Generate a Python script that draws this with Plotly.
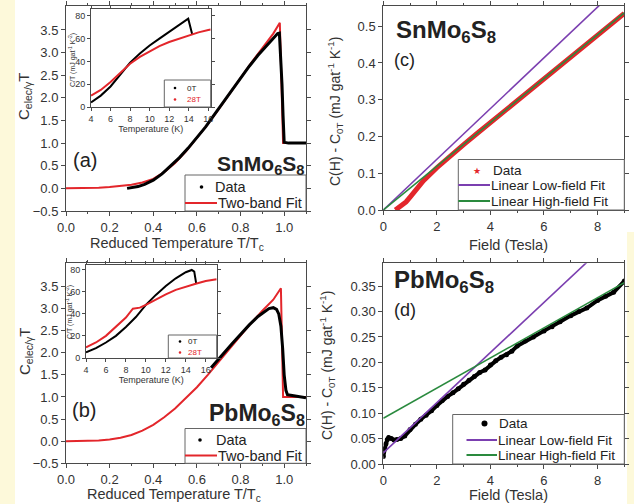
import plotly.graph_objects as go

W, H = 634, 504
FONT = "Arial, Liberation Sans, sans-serif"
def fx(p): return p / W
def fy(p): return 1 - p / H

RED = "#e3262b"
PURPLE = "#7b3fb0"
GREEN = "#2a8a3e"
AX = "#4a4a4a"

# ---------------- Panel (a): SnMo6S8 specific heat ----------------
a_t_data = [0.28, 0.30, 0.33, 0.36, 0.40, 0.44, 0.48, 0.52, 0.56, 0.60, 0.64, 0.68, 0.72, 0.76,
            0.80, 0.84, 0.88, 0.92, 0.95, 0.97, 0.978, 0.985, 0.99, 0.995, 1.0, 1.02, 1.05, 1.08, 1.1]
a_c_data = [0.00, 0.01, 0.04, 0.09, 0.18, 0.32, 0.49, 0.68, 0.89, 1.12, 1.36, 1.63, 1.90, 2.17,
            2.44, 2.70, 2.94, 3.16, 3.32, 3.42, 3.43, 2.9, 2.3, 1.6, 1.02, 1.0, 1.0, 1.0, 1.0]
a_t_fit = [0.0, 0.05, 0.10, 0.15, 0.20, 0.25, 0.30, 0.35, 0.40, 0.45, 0.50, 0.55, 0.60, 0.65,
           0.70, 0.75, 0.80, 0.85, 0.90, 0.95, 0.98, 0.995, 1.1]
a_c_fit = [0.0, 0.0, 0.005, 0.015, 0.03, 0.05, 0.08, 0.13, 0.21, 0.36, 0.56, 0.82, 1.12, 1.42,
           1.75, 2.1, 2.44, 2.78, 3.1, 3.42, 3.66, 1.0, 1.0]

# ---------------- Panel (b): PbMo6S8 specific heat ----------------
b_t_data = [0.665, 0.68, 0.72, 0.76, 0.80, 0.84, 0.88, 0.91, 0.93, 0.95, 0.965, 0.975, 0.985,
            0.993, 1.0, 1.008, 1.015, 1.03, 1.05, 1.07, 1.09, 1.1]
b_c_data = [1.66, 1.74, 1.97, 2.2, 2.42, 2.63, 2.82, 2.94, 3.0, 3.02, 2.98, 2.88, 2.6,
            2.1, 1.5, 1.15, 1.05, 1.04, 1.02, 1.0, 0.98, 0.98]
b_t_fit = [0.0, 0.05, 0.10, 0.15, 0.20, 0.25, 0.30, 0.35, 0.40, 0.45, 0.50, 0.55, 0.60, 0.65,
           0.70, 0.75, 0.80, 0.85, 0.90, 0.95, 0.985, 0.995, 1.1]
b_c_fit = [0.0, 0.0, 0.005, 0.015, 0.04, 0.08, 0.14, 0.24, 0.37, 0.54, 0.74, 0.97, 1.22, 1.5,
           1.8, 2.1, 2.4, 2.68, 2.95, 3.2, 3.46, 1.0, 1.0]

# ---------------- Panel (c): SnMo6S8 field dependence ----------------
c_H = [0.45, 0.55, 0.7, 0.85, 1.0, 1.2, 1.5, 2.0, 2.5, 3.0, 3.5, 4.0, 4.5, 5.0, 5.5, 6.0,
       6.5, 7.0, 7.5, 8.0, 8.5, 9.0]
c_dC = [0.0, 0.005, 0.012, 0.022, 0.035, 0.055, 0.08, 0.115, 0.148, 0.178, 0.208, 0.238,
        0.268, 0.298, 0.328, 0.358, 0.388, 0.418, 0.448, 0.477, 0.506, 0.535]
c_fit_H = [0, 9]
c_low = [0.0, 0.621]
c_high = [0.0, 0.536]

# ---------------- Panel (d): PbMo6S8 field dependence ----------------
d_H = [0.0, 0.05, 0.1, 0.15, 0.2, 0.3, 0.4, 0.5, 0.65, 0.8, 1.0, 1.2, 1.4, 1.6, 1.8, 2.0,
       2.2, 2.4, 2.6, 2.8, 3.0, 3.2, 3.4, 3.6, 3.8, 4.0, 4.2, 4.4, 4.6, 4.8, 5.0, 5.3, 5.6,
       6.0, 6.3, 6.6, 7.0, 7.3, 7.6, 8.0, 8.3, 8.6, 9.0]
d_dC = [0.015, 0.03, 0.04, 0.048, 0.052, 0.05, 0.047, 0.048, 0.05, 0.055, 0.068, 0.078,
        0.088, 0.096, 0.105, 0.115, 0.125, 0.133, 0.14, 0.148, 0.157, 0.165, 0.172, 0.18,
        0.185, 0.195, 0.203, 0.21, 0.215, 0.222, 0.232, 0.242, 0.25, 0.262, 0.27, 0.28,
        0.292, 0.3, 0.307, 0.322, 0.33, 0.338, 0.36]
d_fit_H = [0, 9]
d_low = [0.022, 0.466]
d_high = [0.09, 0.357]

# ---------------- Insets: C/T vs T at 0 T and 28 T ----------------
ia_T0 = [4, 5, 6, 7, 8, 9, 10, 11, 12, 13, 13.95, 14.35]
ia_C0 = [4, 10, 18, 28, 39, 47, 54, 60, 66, 72, 77.5, 64]
ia_T28 = [4, 5, 6, 7, 8, 9, 10, 11, 12, 13, 14, 15, 16, 16.25]
ia_C28 = [10, 15, 22, 30, 38, 44, 49, 53.5, 57, 60, 63, 65.5, 67.5, 68]

ib_T0 = [4, 5, 6, 7, 8, 9, 10, 11, 12, 13, 14, 14.6, 14.85, 15.05]
ib_C0 = [5, 9, 14, 20, 28, 37, 48, 57, 65, 72, 77.5, 79.5, 78, 67]
ib_T28 = [4, 5, 6, 7, 8, 8.7, 9.4, 10, 11, 12, 13, 14, 15, 16, 17, 17.1]
ib_C28 = [9.5, 14, 20, 28, 36.5, 44.5, 45.5, 48, 53, 57.5, 61.5, 64.5, 67, 69.5, 71, 71.2]

# tick labels
temp_ticks = [0.0, 0.2, 0.4, 0.6, 0.8, 1.0]
cel_ticks = [-0.5, 0.0, 0.5, 1.0, 1.5, 2.0, 2.5, 3.0, 3.5]
field_ticks = [0, 2, 4, 6, 8]
c_ticks = [0.0, 0.1, 0.2, 0.3, 0.4, 0.5]
d_ticks = [0.00, 0.05, 0.10, 0.15, 0.20, 0.25, 0.30, 0.35]
inset_y_ticks = [0, 20, 40, 60, 80]
inset_x_ticks = [4, 6, 8, 10, 12, 14, 16]

# legend labels
lab_data = "Data"
lab_fit = "Two-band Fit"
lab_low = "Linear Low-field Fit"
lab_high = "Linear High-field Fit"
lab_0T = "0T"
lab_28T = "28T"

fig = go.Figure()

def line(x, y, xa, ya, color, width, name):
    fig.add_trace(go.Scatter(x=x, y=y, mode="lines", name=name, showlegend=False,
                             line=dict(color=color, width=width), xaxis=xa, yaxis=ya))

# (a)
line(a_t_fit, a_c_fit, "x", "y", RED, 2, lab_fit)
line(a_t_data, a_c_data, "x", "y", "black", 3, lab_data)
# (c)
line(c_H, c_dC, "x2", "y2", RED, 5, lab_data)
line(c_fit_H, c_low, "x2", "y2", PURPLE, 1.6, lab_low)
line(c_fit_H, c_high, "x2", "y2", GREEN, 1.6, lab_high)
# (b)
line(b_t_fit, b_c_fit, "x3", "y3", RED, 2, lab_fit)
line(b_t_data, b_c_data, "x3", "y3", "black", 3, lab_data)
# (d)
fig.add_trace(go.Scatter(x=d_H, y=d_dC, mode="lines+markers", name=lab_data, showlegend=False,
                         line=dict(color="black", width=4), marker=dict(color="black", size=5),
                         xaxis="x4", yaxis="y4"))
line(d_fit_H, d_low, "x4", "y4", PURPLE, 1.6, lab_low)
line(d_fit_H, d_high, "x4", "y4", GREEN, 1.6, lab_high)
# insets
line(ia_T0, ia_C0, "x5", "y5", "black", 2, lab_0T)
line(ia_T28, ia_C28, "x5", "y5", RED, 2, lab_28T)
line(ib_T0, ib_C0, "x6", "y6", "black", 2, lab_0T)
line(ib_T28, ib_C28, "x6", "y6", RED, 2, lab_28T)


def ax(domain, rng, anchor, tickvals, fmt, size=13, title=None, tsize=15, minor=None, standoff=2, ticklen=4):
    d = dict(domain=domain, range=rng, anchor=anchor, showline=True, linecolor=AX, linewidth=1,
             mirror="allticks", ticks="outside", ticklen=ticklen, tickcolor=AX, showgrid=False,
             zeroline=False, tickvals=tickvals, tickformat=fmt, automargin=False,
             tickfont=dict(size=size, color="#333", family=FONT))
    if title:
        d["title"] = dict(text=title, font=dict(size=tsize, color="#333", family=FONT), standoff=standoff)
    if minor is not None:
        d["minor"] = dict(tickvals=minor, ticks="outside", ticklen=max(2, ticklen - 2), tickcolor=AX, showgrid=False)
    return d

minor_t = [0.1, 0.3, 0.5, 0.7, 0.9, 1.1]
minor_f = [1, 3, 5, 7, 9]

xa = [fx(66), fx(306)]
xc = [fx(383.3), fx(624.3)]
ya = [fy(211), fy(6)]
yb = [fy(463.3), fy(263)]
yc = [fy(210), fy(6)]
yd = [fy(464), fy(263.3)]

layout = dict(
    width=W, height=H, margin=dict(l=0, r=0, t=0, b=0, autoexpand=False),
    paper_bgcolor="white", plot_bgcolor="white", showlegend=False,
    font=dict(family=FONT, color="#333"),
    xaxis=ax(xa, [0, 1.1], "y", temp_ticks, ".1f", minor=minor_t),
    yaxis=ax(ya, [-0.5, 4.03], "x", cel_ticks, ".1f"),
    xaxis2=ax(xc, [0, 9], "y2", field_ticks, "d", minor=minor_f),
    yaxis2=ax(yc, [0, 0.555], "x2", c_ticks, ".1f"),
    xaxis3=ax(xa, [0, 1.1], "y3", temp_ticks, ".1f", minor=minor_t),
    yaxis3=ax(yb, [-0.5, 4.03], "x3", cel_ticks, ".1f"),
    xaxis4=ax(xc, [0, 9], "y4", field_ticks, "d", minor=minor_f),
    yaxis4=ax(yd, [0, 0.395], "x4", d_ticks, ".2f"),
    xaxis5=ax([fx(91), fx(210.7)], [4, 16.25], "y5", inset_x_ticks, "d", size=9,
              title="Temperature (K)", tsize=9, standoff=0, ticklen=3),
    yaxis5=ax([fy(107), fy(9)], [0, 86], "x5", inset_y_ticks, "d", size=9, ticklen=3),
    xaxis6=ax([fx(86), fx(216.7)], [4, 17.1], "y6", inset_x_ticks, "d", size=9,
              title="Temperature (K)", tsize=9, standoff=0, ticklen=3),
    yaxis6=ax([fy(358), fy(265)], [0, 84], "x6", inset_y_ticks, "d", size=9, ticklen=3),
)
fig.update_layout(**layout)

# background tint strips
fig.add_shape(type="rect", xref="paper", yref="paper", x0=0, x1=fx(15), y0=0, y1=1,
              fillcolor="#fdf9da", line_width=0, layer="below")
fig.add_shape(type="rect", xref="paper", yref="paper", x0=fx(627), x1=1, y0=0, y1=fy(232),
              fillcolor="#fdf9da", line_width=0, layer="below")


def text(t, x, y, size, color="#222", xanchor="center", angle=0):
    fig.add_annotation(text=t, x=fx(x), y=fy(y), xref="paper", yref="paper", showarrow=False,
                       xanchor=xanchor, yanchor="middle", textangle=angle,
                       font=dict(size=size, color=color, family=FONT))

# axis titles
xtitle_t = "Reduced Temperature T/T<sub>c</sub>"
xtitle_f = "Field (Tesla)"
ytitle_cel = "C<sub>elec/γ</sub>T"
ytitle_dc = "C(H) - C<sub>0T</sub> (mJ gat<sup>-1</sup> K<sup>-1</sup>)"
ytitle_in = "C/T (mJ gat<sup>-1</sup> K<sup>-2</sup>)"
text(xtitle_t, 177, 244, 14.5, color="#333")
text(xtitle_t, 174, 495, 14.5, color="#333")
text(xtitle_f, 508, 245, 14.5, color="#333")
text(xtitle_f, 508, 495, 14.5, color="#333")
text(ytitle_cel, 25, 97, 15, color="#333", angle=-90)
text(ytitle_cel, 25, 352, 15, color="#333", angle=-90)
text(ytitle_dc, 335, 112, 14, color="#333", angle=-90)
text(ytitle_dc, 327, 366, 14, color="#333", angle=-90)
text(ytitle_in, 72, 60, 7, color="#333", angle=-90)
text(ytitle_in, 69, 312, 7, color="#333", angle=-90)


def legend_box(x0, x1, y0, y1, rows, fsize):
    """rows: (kind, color, label, label_color, y, sym_x0, sym_x1, text_x)"""
    fig.add_shape(type="rect", xref="paper", yref="paper", x0=fx(x0), x1=fx(x1), y0=fy(y1), y1=fy(y0),
                  fillcolor="white", line=dict(color="#666", width=1))
    for kind, color, label, lcolor, y, s0, s1, tx in rows:
        if kind == "line":
            fig.add_shape(type="line", xref="paper", yref="paper", x0=fx(s0), x1=fx(s1), y0=fy(y), y1=fy(y),
                          line=dict(color=color, width=2))
        elif kind == "dot":
            r = s1
            fig.add_shape(type="circle", xref="paper", yref="paper", x0=fx(s0 - r), x1=fx(s0 + r),
                          y0=fy(y + r), y1=fy(y - r), fillcolor=color, line=dict(color=color, width=0))
        elif kind == "star":
            fig.add_annotation(text="★", x=fx(s0), y=fy(y), xref="paper", yref="paper", showarrow=False,
                               xanchor="center", yanchor="middle",
                               font=dict(size=s1, color=color, family="DejaVu Sans"))
        fig.add_annotation(text=label, x=fx(tx), y=fy(y), xref="paper", yref="paper", showarrow=False,
                           xanchor="left", yanchor="middle", font=dict(size=fsize, color=lcolor, family=FONT))

legend_box(185, 306, 175, 211, [
    ("dot", "black", lab_data, "#222", 187, 201.5, 1.8, 213),
    ("line", RED, lab_fit, "#222", 203, 185, 217, 216),
], 14.5)
legend_box(458.3, 624.3, 159.5, 210, [
    ("star", RED, lab_data, "#222", 170.5, 476.5, 9, 491),
    ("line", PURPLE, lab_low, "#222", 185, 458.3, 490, 489),
    ("line", GREEN, lab_high, "#222", 201, 458.3, 490, 489),
], 13.5)
legend_box(185, 306, 428.5, 463.3, [
    ("dot", "black", lab_data, "#222", 440, 200, 1.8, 214),
    ("line", RED, lab_fit, "#222", 455.5, 185, 217, 216),
], 14.5)
legend_box(452.7, 624.3, 414.5, 464, [
    ("dot", "black", lab_data, "#222", 423.5, 484.5, 3, 497),
    ("line", PURPLE, lab_low, "#222", 440, 466.5, 497, 496),
    ("line", GREEN, lab_high, "#222", 455, 466.5, 497, 496),
], 13.5)
legend_box(164.3, 210.7, 80, 107, [
    ("dot", "black", lab_0T, "#222", 88, 175, 1.3, 185),
    ("dot", RED, lab_28T, RED, 99.5, 175, 1.3, 185),
], 8)
legend_box(168.3, 216.7, 335, 358, [
    ("dot", "black", lab_0T, "#222", 341.5, 180, 1.3, 186),
    ("dot", RED, lab_28T, RED, 352.5, 180, 1.3, 186),
], 8)

# panel labels and compound names
text("(a)", 85, 160, 20)
text("<b>SnMo<sub>6</sub>S<sub>8</sub></b>", 307, 165, 21, xanchor="right")
text("<b>SnMo<sub>6</sub>S<sub>8</sub></b>", 394, 31, 24, xanchor="left")
text("(c)", 404, 60, 18)
text("(b)", 84, 410, 20)
text("<b>PbMo<sub>6</sub>S<sub>8</sub></b>", 307, 414, 23, xanchor="right")
text("<b>PbMo<sub>6</sub>S<sub>8</sub></b>", 392, 281, 24, xanchor="left")
text("(d)", 405, 310, 18)

fig.write_html("out.html", config={"displayModeBar": False},
               post_script="document.body.style.margin='0px';")
